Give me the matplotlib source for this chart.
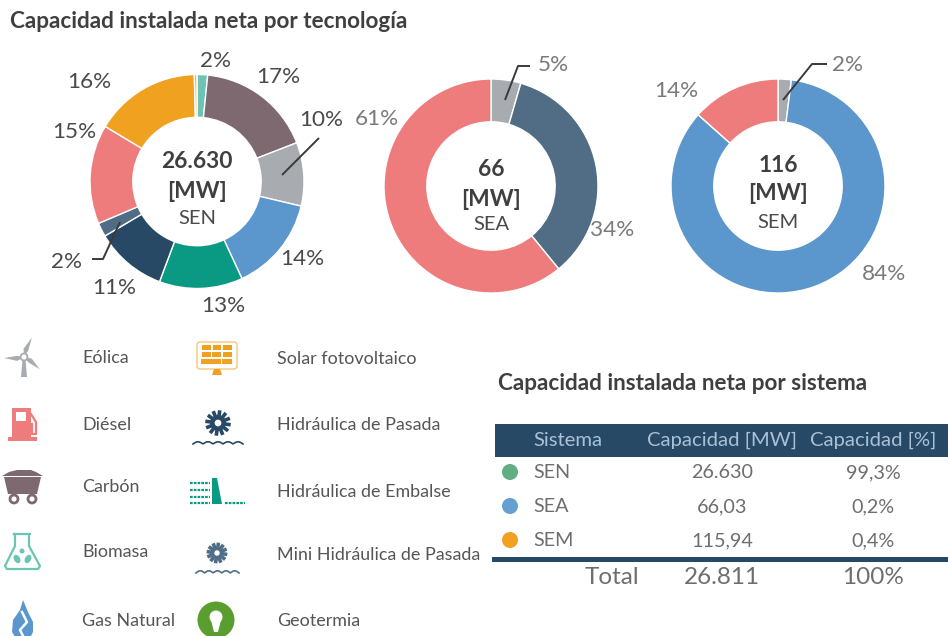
import numpy as np
import matplotlib
matplotlib.use("Agg")
import matplotlib.pyplot as plt
from matplotlib.patches import Circle, Rectangle, Polygon, Ellipse, FancyBboxPatch

# ---------- data ----------
sen_names = ["Biomasa", "Carbón", "Eólica", "Gas Natural", "Hidráulica de Embalse",
             "Hidráulica de Pasada", "Mini Hidráulica de Pasada", "Diésel",
             "Solar fotovoltaico", "Geotermia"]
sen_values = [1.6, 17.5, 9.6, 14.4, 12.6, 10.8, 2.1, 15.0, 16.0, 0.4]
sea_names = ["Eólica", "Mini Hidráulica de Pasada", "Diésel"]
sea_values = [4.5, 34.6, 60.9]
sem_names = ["Eólica", "Gas Natural", "Diésel"]
sem_values = [2.0, 84.6, 13.4]

table_header = ["Sistema", "Capacidad [MW]", "Capacidad [%]"]
table_sistemas = ["SEN", "SEA", "SEM"]
table_mw = ["26.630", "66,03", "115,94"]
table_pct = ["99,3%", "0,2%", "0,4%"]
table_total = ["Total", "26.811", "100%"]

tech_colors = {"Biomasa": "#6CC4B5", "Carbón": "#7E6971", "Eólica": "#A8ABAF",
               "Gas Natural": "#5B97CC", "Hidráulica de Embalse": "#0A9A84",
               "Hidráulica de Pasada": "#274966", "Mini Hidráulica de Pasada": "#506D85",
               "Diésel": "#EF7C7C", "Solar fotovoltaico": "#F0A120", "Geotermia": "#F2B27A"}
sys_colors = ["#62AD84", "#669FD1", "#F2A020"]

W, H = 948, 636
FONT = "Lato"
DARK = "#3F3F3F"
GREY = "#6E6E6E"
plt.rcParams["font.family"] = [FONT, "DejaVu Sans"]

fig = plt.figure(figsize=(W / 100, H / 100), dpi=100, facecolor="white")


def donut(cx, cy, r, names, values):
    ax = fig.add_axes([(cx - r) / W, 1 - (cy + r) / H, 2 * r / W, 2 * r / H])
    ax.pie(values, colors=[tech_colors[n] for n in names], startangle=90, counterclock=False,
           radius=1.0, wedgeprops=dict(width=0.4, edgecolor="white", linewidth=1.0))
    ax.set_xlim(-1, 1)
    ax.set_ylim(-1, 1)
    ax.set_axis_off()


donut(197, 181.5, 107, sen_names, sen_values)
donut(491, 186, 107, sea_names, sea_values)
donut(778, 186, 107, sem_names, sem_values)

# overlay in pixel coordinates
ov = fig.add_axes([0, 0, 1, 1], facecolor="none")
ov.set_xlim(0, W)
ov.set_ylim(H, 0)
ov.set_axis_off()


def T(x, y, s, size=11.5, color=DARK, weight="normal", ha="center"):
    ov.text(x, y + 1, s, fontsize=size, color=color, fontweight=weight, ha=ha, va="center")


# titles
T(10, 20, "Capacidad instalada neta por tecnología", 16.2, DARK, "bold", "left")
T(498, 383, "Capacidad instalada neta por sistema", 16.2, DARK, "bold", "left")

# SEN labels
for x, y, s in [(216, 60, "2%"), (278, 76, "17%"), (321, 119, "10%"), (74, 131, "15%"),
                (89, 81, "16%"), (302, 258, "14%"), (223, 305, "13%"), (114, 287, "11%"),
                (67, 261, "2%")]:
    T(x, y, s, 16.2, "#4A4A4A")
# SEA / SEM labels
for x, y, s in [(377, 118, "61%"), (553, 64, "5%"), (612, 229, "34%"), (676, 90, "14%"),
                (848, 64, "2%"), (884, 273, "84%")]:
    T(x, y, s, 16.2, "#7A7A7A")

# leaders
for pts in [[(319, 138), (282, 175)], [(92, 259), (103, 259), (120, 222)],
            [(530, 66), (518, 66), (505, 100)], [(827, 64), (812, 64), (783, 100)]]:
    xs, ys = zip(*pts)
    ov.plot(xs, ys, color="#3A3A3A", lw=1.4, solid_capstyle="butt")

# centre labels
for x, ys, a, b in [(197, (161, 191, 217), "26.630", "SEN"), (491, (168, 198, 224), "66", "SEA"),
                    (778, (164, 193, 222), "116", "SEM")]:
    T(x, ys[0], a, 16.4, DARK, "bold")
    T(x, ys[1], "[MW]", 16.4, DARK, "bold")
    T(x, ys[2], b, 14.5, "#4A4A4A")

# legend texts
for x, y, s in [(82, 357, "Eólica"), (82, 424, "Diésel"), (82, 486, "Carbón"), (82, 551, "Biomasa"),
                (82, 620, "Gas Natural"), (277, 358, "Solar fotovoltaico"),
                (277, 424, "Hidráulica de Pasada"), (277, 491, "Hidráulica de Embalse"),
                (277, 554, "Mini Hidráulica de Pasada"), (277, 620, "Geotermia")]:
    T(x, y, s, 12.9, "#555555", "normal", "left")


# ---------- icons ----------
def wind(cx, cy):
    c = "#A8ABAF"
    for ang, L in [(68, 21), (183, 20), (-38, 20)]:
        a = np.deg2rad(ang)
        d = np.array([np.cos(a), -np.sin(a)])
        n = np.array([d[1], -d[0]])
        c0 = np.array([cx, cy])
        ov.add_patch(Polygon([c0, c0 + d * L * .35 + n * 3.5, c0 + d * L, c0 + d * L * .35 - n * 1.5], color=c, lw=0))
    ov.add_patch(Polygon([(cx - 1.5, cy + 3), (cx + 1.5, cy + 3), (cx + 3, cy + 20), (cx - 3, cy + 20)], color=c, lw=0))
    ov.add_patch(Circle((cx, cy), 3.5, fc="white", ec=c, lw=1.3))


def diesel():
    c = "#EF7C7C"
    ov.add_patch(Rectangle((12, 408), 19, 29, color=c, lw=0))
    ov.add_patch(Rectangle((8, 437), 29, 3.5, color=c, lw=0))
    ov.add_patch(Rectangle((16, 412), 10, 9, color="white", lw=0))
    ov.plot([31, 36, 36, 32, 32], [414, 422, 434, 434, 424], color=c, lw=1.6)


def carbon():
    c = "#7E6971"
    ov.add_patch(Polygon([(9, 472), (17, 470), (24, 470), (31, 470), (36, 472), (43, 476), (2, 476)], color=c, lw=0))
    ov.add_patch(Polygon([(4, 477), (41, 477), (37, 494), (8, 494)], color=c, lw=0))
    for x in (14, 32):
        ov.add_patch(Circle((x, 499), 4, fc="white", ec=c, lw=2))


def biomass():
    c = "#6CC4B5"
    ov.plot([14, 15, 15, 5, 7, 38, 40, 29, 29, 30, 14], [534, 534, 546, 566, 569, 569, 566, 546, 534, 534, 534],
            color=c, lw=1.6)
    ov.add_patch(Ellipse((17, 559), 6, 9, angle=-30, color=c, lw=0))
    ov.add_patch(Ellipse((28, 559), 6, 9, angle=30, color=c, lw=0))
    ov.add_patch(Circle((22, 551), 2.5, color=c, lw=0))


def gas():
    c = "#5B97CC"
    ov.add_patch(Polygon([(23, 600), (28, 612), (33, 622), (33, 632), (29, 640), (17, 640), (12, 632),
                          (13, 620), (20, 610)], color=c, lw=0))
    ov.plot([22, 27, 20, 24], [612, 622, 630, 638], color="white", lw=1.8)


def solar():
    c = "#F0A120"
    ov.add_patch(FancyBboxPatch((197, 342), 40, 27, boxstyle="round,pad=0,rounding_size=3", fc="none",
                                ec="#F6C67E", lw=1))
    for j, y in enumerate((345, 352, 359)):
        for i in range(3):
            ov.add_patch(Rectangle((202.5 + i * 10.5 - j * .8, y), 8.5 + j * .7, 4.5, color=c, lw=0))
    ov.add_patch(Polygon([(214, 369), (220, 369), (222, 375), (212, 375)], color=c, lw=0))


def wheel(cx, cy, r, c, x0, x1, wy):
    for a in np.arange(0, 360, 30):
        ra = np.deg2rad(a + 8)
        ca, sa = np.cos(ra), np.sin(ra)
        ov.plot([cx + r * .9 * ca, cx + r * 1.6 * ca], [cy + r * .9 * sa, cy + r * 1.6 * sa],
                color=c, lw=2.6, solid_capstyle="butt")
    ov.add_patch(Circle((cx, cy), r, color=c, lw=0))
    ov.add_patch(Circle((cx, cy), r * .42, color="white", lw=0))
    xs = np.linspace(x0, x1, 60)
    ov.plot(xs, wy - 2.2 * np.abs(np.sin((xs - x0) / (x1 - x0) * 5 * np.pi)), color=c, lw=1.2)


def embalse():
    c = "#0A9A84"
    ov.add_patch(Polygon([(212, 478), (217, 478), (222, 504), (212, 504)], color=c, lw=0))
    for y in (483, 490, 497, 503):
        ov.plot([190, 210], [y, y], color=c, lw=1.6, ls=(0, (1.2, .5)))
    ov.plot([225, 245], [503, 503], color=c, lw=1.6, ls=(0, (1.2, .5)))


def geo():
    ov.add_patch(Circle((216, 620), 18.5, color="#5A9E2F", lw=0))
    ov.add_patch(Circle((216, 617), 6.5, color="white", lw=0))
    ov.add_patch(Polygon([(211, 620), (221, 620), (218, 632), (214, 632)], color="white", lw=0))


wind(24, 357)
diesel()
carbon()
biomass()
gas()
solar()
wheel(218, 423, 8, "#274966", 193, 243, 444)
embalse()
wheel(217, 553, 6.5, "#506D85", 196, 239, 573)
geo()

# ---------- table ----------
ov.add_patch(Rectangle((495, 424), W - 495, 33, color="#274966", lw=0))
HDR = "#A9C1D6"
T(533, 439, table_header[0], 14.6, HDR, "normal", "left")
T(722, 439, table_header[1], 14.6, HDR)
T(873, 439, table_header[2], 14.6, HDR)
for i, ry in enumerate((473, 507, 541)):
    ov.add_patch(Circle((510, ry - 1), 8, color=sys_colors[i], lw=0))
    T(533, ry - 1, table_sistemas[i], 14.2, GREY, "normal", "left")
    T(722, ry - 1, table_mw[i], 14.2, GREY)
    T(873, ry - 1, table_pct[i], 14.2, GREY)
ov.add_patch(Rectangle((492, 557), W - 492, 4.5, color="#274966", lw=0))
T(639, 577, table_total[0], 17.5, GREY, "normal", "right")
T(722, 577, table_total[1], 17.5, GREY)
T(873, 577, table_total[2], 17.5, GREY)

fig.savefig("out.png", dpi=100, facecolor="white")
